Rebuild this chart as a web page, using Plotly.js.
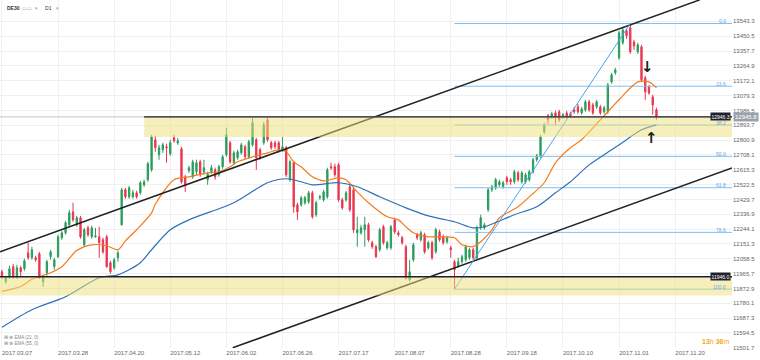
<!DOCTYPE html>
<html><head><meta charset="utf-8">
<script src="https://cdn.plot.ly/plotly-3.0.1.min.js"></script>
<style>html,body{margin:0;padding:0;background:#fff}#chart{width:760px;height:360px}</style>
</head><body><div id="chart"></div>
<script>
// ---- data ----
const open = [11977,11915,11946,12009,11946,12002,11996,12096,12065,12065,
12090,11915,11971,12071,12009,12071,12190,12221,12271,12352,
12271,12315,12146,12252,12196,12196,12196,12177,12196,12034,
12002,12065,12271,12490,12446,12446,12471,12471,12521,12553,
12615,12803,12709,12740,12759,12715,12815,12784,12746,12571,
12609,12571,12603,12665,12603,12553,12603,12615,12584,12634,
12709,12784,12659,12690,12721,12759,12696,12771,12803,12740,
12784,12928,12784,12784,12784,12740,12753,12553,12659,12396,
12396,12409,12415,12471,12334,12440,12427,12446,12634,12634,
12646,12427,12427,12509,12490,12221,12221,12240,12271,12159,
12134,12115,12259,12127,12127,12302,12221,12190,12134,11927,
12052,12209,12177,12209,12127,12159,12102,12227,12196,12165,
12127,12040,12015,12040,12052,12065,12115,12065,12252,12252,
12365,12490,12502,12521,12509,12565,12553,12540,12596,12540,
12540,12553,12603,12678,12703,12853,12953,12946,12971,12978,
12946,12971,12965,12990,13009,12971,12990,13040,13021,13009,
13009,12978,12978,13165,13222,13315,13409,13484,13503,13415,
13353,13384,13190,13134,13071,12990];
const high = [11990,11952,12015,12027,12021,12015,12059,12159,12134,12077,
12102,11958,12052,12115,12065,12209,12234,12296,12365,12409,
12327,12327,12252,12265,12265,12252,12259,12190,12209,12046,
12065,12109,12502,12502,12515,12490,12484,12546,12553,12665,
12834,12828,12771,12784,12778,12803,12834,12815,12759,12584,
12640,12678,12678,12678,12678,12603,12646,12628,12646,12709,
12878,12796,12734,12740,12784,12771,12803,12940,12815,12753,
12915,12940,12796,12796,12796,12821,12765,12678,12671,12409,
12452,12452,12484,12484,12421,12459,12490,12628,12659,12653,
12659,12440,12484,12521,12502,12321,12271,12321,12284,12171,
12146,12252,12271,12171,12271,12315,12234,12202,12146,12052,
12159,12221,12234,12221,12171,12171,12252,12240,12209,12202,
12140,12052,12065,12084,12146,12127,12127,12265,12334,12284,
12502,12521,12565,12553,12546,12578,12565,12615,12609,12609,
12596,12615,12690,12715,12834,12909,12965,12978,12984,12990,
12971,12984,12978,13009,13028,13009,13053,13053,13034,13053,
13021,13015,13159,13222,13253,13484,13503,13497,13530,13428,
13409,13397,13203,13146,13084,13003];
const low = [11933,11902,11933,11933,11933,11946,11983,12052,12052,12040,
11933,11883,11952,12052,11990,12065,12177,12209,12259,12290,
12259,12184,12134,12196,12184,12190,12065,12090,12002,11965,
11990,12040,12265,12434,12434,12434,12434,12459,12509,12540,
12603,12728,12678,12721,12659,12703,12784,12771,12528,12477,
12596,12559,12584,12571,12584,12521,12590,12553,12571,12621,
12696,12653,12646,12678,12709,12684,12684,12759,12615,12678,
12771,12790,12740,12746,12721,12728,12571,12540,12346,12302,
12384,12396,12402,12309,12321,12427,12415,12434,12615,12571,
12415,12365,12415,12352,12221,12134,12209,12134,12165,12121,
12065,12102,12146,12115,12115,12215,12196,12146,11927,11915,
12040,12177,12165,12090,12115,12052,12090,12165,12146,12152,
12065,11868,12002,12027,12040,12052,12052,12052,12240,12240,
12352,12477,12490,12509,12496,12521,12521,12528,12540,12528,
12528,12540,12590,12665,12690,12840,12903,12934,12896,12915,
12934,12934,12940,12965,12965,12959,12978,12978,12959,12996,
12959,12965,12965,13153,13209,13303,13397,13434,13340,13365,
13340,13165,13053,13084,12959,12928];
const close = [11946,11940,11996,11946,12002,11977,12046,12065,12115,12052,
11940,11946,12040,12102,12052,12196,12221,12284,12346,12302,
12315,12196,12240,12209,12252,12202,12159,12102,12009,11977,
12052,12096,12490,12446,12502,12471,12446,12534,12540,12653,
12821,12753,12753,12771,12753,12784,12796,12796,12540,12515,
12628,12665,12659,12584,12628,12590,12628,12571,12634,12696,
12834,12665,12721,12728,12771,12696,12790,12909,12690,12690,
12896,12803,12753,12759,12740,12759,12584,12665,12384,12352,
12440,12440,12471,12321,12409,12446,12477,12615,12628,12584,
12427,12377,12471,12365,12240,12240,12252,12271,12177,12134,
12071,12240,12159,12159,12259,12227,12209,12159,11940,11977,
12146,12190,12221,12102,12159,12065,12240,12177,12159,12190,
12115,11990,12040,12071,12134,12115,12065,12252,12315,12271,
12490,12509,12553,12540,12534,12540,12540,12603,12553,12596,
12584,12603,12678,12703,12821,12896,12928,12965,12946,12928,
12959,12946,12953,12978,12978,12996,13040,12990,12971,13040,
12971,13003,13146,13209,13240,13472,13490,13453,13353,13390,
13397,13178,13103,13096,13021,12945.8];

const ema21Bars = [0,5,8,13,16,20,24,28,31,33,36,40,41,46,50,55,58,61,63,67,71,74,76,78,80,83,86,90,92,95,98,103,106,108,110,114,117,121,123,126,128,131,133,138,141,145,148,152,155,160,165,170,173,175];
const ema21Vals = [11855,11885,11930,11971,12009,12110,12146,12140,12115,12170,12240,12346,12400,12553,12571,12596,12603,12634,12665,12696,12721,12740,12728,12665,12634,12571,12546,12565,12553,12477,12409,12321,12302,12259,12221,12196,12196,12190,12146,12134,12165,12240,12315,12384,12446,12534,12659,12753,12803,12928,13053,13165,13165,13128];
const ema55Bars = [0,8,17,26,31,37,40,45,50,62,71,76,80,83,90,95,101,108,114,121,126,129,137,143,148,152,157,163,167,171,175];
const ema55Vals = [11630,11740,11821,11940,11958,12034,12115,12240,12302,12409,12534,12559,12540,12521,12534,12509,12446,12377,12327,12290,12252,12259,12334,12384,12471,12540,12646,12740,12803,12865,12896];

const tickBars = [0,15,30,45,60,75,90,105,120,135,150,165,180];
const tickDates = ['2017.03.07','2017.03.28','2017.04.20','2017.05.12','2017.06.02','2017.06.26','2017.07.17','2017.08.07','2017.08.28','2017.09.18','2017.10.10','2017.11.01','2017.11.20'];
const priceTicks = ['11501.7','11594.5','11687.3','11780.1','11872.9','11965.7','12058.5','12151.3','12244.1','12336.9','12429.7','12522.5','12615.3','12708.1','12800.9','12893.7','12986.5','13079.3','13172.1','13264.9','13357.7','13450.5','13543.3'];

const channelUpperBars = [-0.53, 186.6];
const channelUpperPrices = [12102, 13678];
const channelLowerBars = [61.7, 195.2];
const channelLowerPrices = [11502, 12626];

const fibLowBar = 121, fibHighBar = 168;
const fibLevels = [0, 23.6, 38.2, 50, 61.8, 78.6, 100];
const fibLabels = ['0.0','23.6','38.2','50.0','61.8','78.6','100.0'];

const resistanceLevel = 12946.3, resistanceZoneLow = 12820, resistanceFromBar = 38;
const supportLevel = 11946.0, supportZoneLow = 11829;

// ---- layout constants ----
const xRange = [-0.53, 195.2];
const yRange = [11500.5, 13677];
const bars = open.map((_, i) => i);
const lastClose = close[close.length - 1];
const fibHigh = high[fibHighBar], fibLow = low[fibLowBar];
const fibPrices = fibLevels.map(p => fibHigh - (fibHigh - fibLow) * p / 100);

const GREEN = '#2a9d5c', RED = '#e8364f';
const traces = [];
fibPrices.forEach(p => traces.push({type:'scatter', mode:'lines', x:[fibLowBar, xRange[1]], y:[p,p],
  line:{color:'#7fc0f2', width:1}, hoverinfo:'skip', showlegend:false}));
traces.push({type:'candlestick', x:bars, open:open, high:high, low:low, close:close,
  increasing:{line:{color:GREEN,width:1}, fillcolor:GREEN},
  decreasing:{line:{color:RED,width:1}, fillcolor:RED},
  whiskerwidth:0, hoverinfo:'skip', showlegend:false});
traces.push({type:'scatter', mode:'lines', x:ema21Bars, y:ema21Vals, line:{color:'#f47c20', width:1.2, shape:'spline', smoothing:0.8}, hoverinfo:'skip', showlegend:false});
traces.push({type:'scatter', mode:'lines', x:ema55Bars, y:ema55Vals, line:{color:'#2f6fba', width:1.2, shape:'spline', smoothing:0.8}, hoverinfo:'skip', showlegend:false});
traces.push({type:'scatter', mode:'lines', x:channelUpperBars, y:channelUpperPrices, line:{color:'#222', width:1.5}, hoverinfo:'skip', showlegend:false});
traces.push({type:'scatter', mode:'lines', x:channelLowerBars, y:channelLowerPrices, line:{color:'#222', width:1.5}, hoverinfo:'skip', showlegend:false});
traces.push({type:'scatter', mode:'lines', x:[fibLowBar, fibHighBar], y:[fibLow, fibHigh], line:{color:'#4aa3f0', width:1}, hoverinfo:'skip', showlegend:false});

const shapes = [
  {type:'rect', layer:'above', xref:'x', yref:'y', x0:resistanceFromBar, x1:xRange[1], y0:resistanceZoneLow, y1:resistanceLevel, fillcolor:'rgba(240,224,120,0.5)', line:{width:0}},
  {type:'rect', layer:'above', xref:'x', yref:'y', x0:xRange[0], x1:xRange[1], y0:supportZoneLow, y1:supportLevel, fillcolor:'rgba(240,224,120,0.5)', line:{width:0}},
  {type:'line', layer:'above', xref:'x', yref:'y', x0:xRange[0], x1:xRange[1], y0:lastClose, y1:lastClose, line:{color:'#c4c4c4', width:1}},
  {type:'line', layer:'above', xref:'x', yref:'y', x0:resistanceFromBar, x1:xRange[1], y0:resistanceLevel, y1:resistanceLevel, line:{color:'#1c2030', width:1.4}},
  {type:'line', layer:'above', xref:'x', yref:'y', x0:xRange[0], x1:xRange[1], y0:supportLevel, y1:supportLevel, line:{color:'#1c2030', width:1.4}}
];

const small = {family:'Liberation Sans, Arial, sans-serif', size:5.5};
const annotations = [];
fibLabels.forEach((t, k) => annotations.push({xref:'paper', yref:'y', x:1, xanchor:'right', xshift:-4, y:fibPrices[k], yanchor:'middle', yshift:2.5,
  text:t, showarrow:false, font:{...small, size:5, color:'#5aa6e8'}}));
annotations.push({xref:'paper', yref:'y', x:1, xanchor:'right', xshift:-1, y:resistanceLevel, yanchor:'middle', text:resistanceLevel.toFixed(1), showarrow:false, bgcolor:'#1e222d', borderpad:0.5, font:{...small, size:5, color:'#fff'}});
annotations.push({xref:'paper', yref:'y', x:1, xanchor:'left', xshift:1, y:lastClose, yanchor:'middle', text:lastClose.toFixed(1), showarrow:false, bgcolor:'#9aa2ab', borderpad:1, font:{...small, size:6, color:'#fff'}});
annotations.push({xref:'paper', yref:'y', x:1, xanchor:'right', xshift:-1, y:supportLevel, yanchor:'middle', text:supportLevel.toFixed(1), showarrow:false, bgcolor:'#1e222d', borderpad:0.5, font:{...small, size:5, color:'#fff'}});
annotations.push({xref:'paper', yref:'paper', x:0, xshift:5, y:1, yshift:-3, xanchor:'left', yanchor:'top', showarrow:false,
  text:'<b>DE30</b>  <span style="color:#aaa">▭▭  ▾</span>     D1   <span style="color:#aaa">▾</span>', font:{...small, size:5, color:'#333'}});
annotations.push({xref:'paper', yref:'paper', x:0, xshift:2, y:0.03, xanchor:'left', yanchor:'middle', showarrow:false, text:'⊞ ⊗ EMA (21, 0)', font:{...small, size:4.5, color:'#888'}});
annotations.push({xref:'paper', yref:'paper', x:0, xshift:2, y:0.012, xanchor:'left', yanchor:'middle', showarrow:false, text:'⊞ ⊗ EMA (55, 0)', font:{...small, size:4.5, color:'#888'}});
annotations.push({xref:'paper', yref:'paper', x:1, xshift:-1, y:0.02, xanchor:'right', yanchor:'middle', showarrow:false,
  text:'<b>13</b>h <b>36</b>m', font:{...small, size:7, color:'#f5a623'}});
annotations.push({xref:'x', yref:'y', x:172.7, y:13259, xanchor:'center', yanchor:'middle', text:'<b>↓</b>', showarrow:false, font:{family:'DejaVu Sans', size:15, color:'#1e1e1e'}});
annotations.push({xref:'x', yref:'y', x:173.8, y:12815, xanchor:'center', yanchor:'middle', text:'<b>↑</b>', showarrow:false, font:{family:'DejaVu Sans', size:15, color:'#1e1e1e'}});

const layout = {
  width:760, height:360, margin:{l:0, r:28, t:0, b:12},
  paper_bgcolor:'#fff', plot_bgcolor:'#fff', showlegend:false, boxgap:0.5,
  font:{family:'Liberation Sans, Arial, sans-serif', size:6, color:'#666'},
  xaxis:{range:xRange, tickmode:'array', tickvals:tickBars, ticktext:tickDates, ticks:'', showline:false, zeroline:false,
    gridcolor:'#f0f0f0', gridwidth:1, rangeslider:{visible:false}, fixedrange:true, ticklabelshift:15, tickfont:{size:6, color:'#666'}},
  yaxis:{range:yRange, side:'right', tickmode:'array', tickvals:priceTicks.map(Number), ticktext:priceTicks, ticks:'', showline:false, zeroline:false,
    gridcolor:'#f0f0f0', gridwidth:1, fixedrange:true, tickfont:{size:6, color:'#666'}},
  shapes:shapes, annotations:annotations
};
Plotly.newPlot('chart', traces, layout, {staticPlot:true, displayModeBar:false});
</script></body></html>
